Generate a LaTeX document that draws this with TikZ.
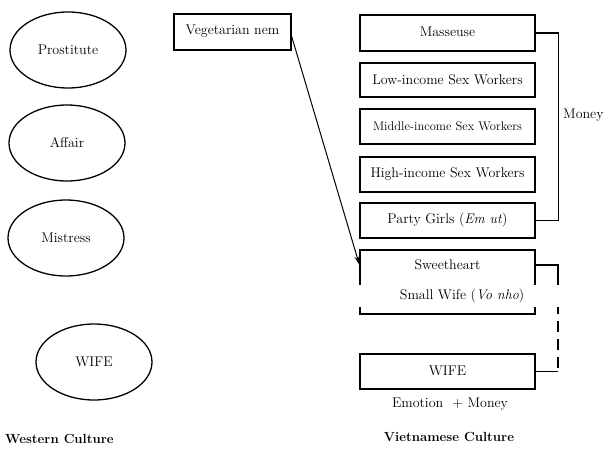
\documentclass[tikz,border=0pt]{standalone}
\usetikzlibrary{shapes.geometric, arrows.meta}
\begin{document}
\begin{tikzpicture}[x=1pt,y=-1pt,
  ell/.style={draw, ellipse, minimum width=116pt, minimum height=76pt, line width=1.3pt, font=\fontsize{14}{16}\selectfont, inner sep=0pt},
  box/.style={draw, rectangle, minimum width=175pt, minimum height=35pt, line width=1.1pt, inner sep=0pt, font=\fontsize{14}{16}\selectfont},
  lbl/.style={inner sep=0pt, font=\fontsize{14}{16}\selectfont},
  ttl/.style={inner sep=0pt, font=\fontsize{13.2}{16}\selectfont\bfseries},
  link/.style={line width=1.1pt}
]
\useasboundingbox (0,0) rectangle (610,452);
% Western ellipses
\node[ell] (pro) at (68,50) {Prostitute};
\node[ell] (aff) at (67,143) {Affair};
\node[ell] (mis) at (66,238) {Mistress};
\node[ell] (wwife) at (94,362) {WIFE};
\node[ttl, anchor=west] (west) at (5,439) {Western Culture};
% Vegetarian nem
\node[box, minimum width=117pt, minimum height=36pt] (vn) at (232.5,32) {\raisebox{4pt}{Vegetarian nem}};
% Vietnamese boxes
\node[box, minimum height=36pt] (mass) at (447.5,33) {\raisebox{3pt}{Masseuse}};
\node[box, minimum height=34pt] (low) at (447.5,80) {\raisebox{1pt}{Low-income Sex Workers}};
\node[box, minimum height=35pt, font=\fontsize{12.5}{15}\selectfont] (mid) at (447.5,126.5) {\raisebox{1pt}{Middle-income Sex Workers}};
\node[box, minimum height=35pt] (high) at (447.5,174.5) {\raisebox{1pt}{High-income Sex Workers}};
\node[box, minimum height=35pt] (party) at (447.5,220.5) {\raisebox{1pt}{Party Girls (\textit{Em ut})}};
\draw[link] (mass.east) -- ++(23,0) coordinate (mtop) |- (party.east);
\node[lbl, anchor=west] (money) at (563,115) {Money};
% Sweetheart / small wife
\node[box, minimum height=64pt] (sw) at (447.5,282) {};
\node[lbl] (swt) at (447.5,265) {Sweetheart};
\node[box, minimum height=35pt] (vwife) at (447.5,371.5) {\raisebox{1pt}{WIFE}};
\coordinate (dtop) at (558,265);
\coordinate (dmid) at (558,285);
\draw[link] (sw.east |- swt) -- (dtop) -- (dmid);
\draw[link, dash pattern=on 11pt off 7pt] (dmid) -- (dmid |- vwife);
\draw[link] (dmid |- vwife) -- (vwife.east);
\node[lbl, fill=white, minimum width=212pt, minimum height=22pt] (small) at (462,296) {Small Wife (\textit{Vo nho})};
\node[lbl] (emo) at (450,404) {Emotion \ + Money};
\node[ttl] (viet) at (449,437) {Vietnamese Culture};
% arrow
\draw[line width=1pt, -{Stealth[length=9pt, width=5pt]}] ([yshift=-4pt]vn.east) -- (sw.west |- swt);
\end{tikzpicture}
\end{document}
